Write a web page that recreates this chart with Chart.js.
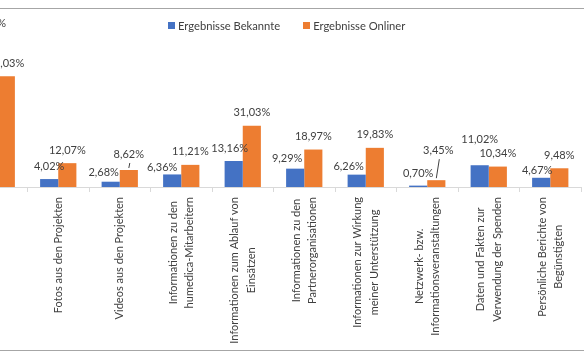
<!DOCTYPE html>
<html>
<head>
<meta charset="utf-8">
<script src="https://cdn.jsdelivr.net/npm/chart.js@4.4.0/dist/chart.umd.min.js"></script>
<style>
  body { margin: 0; width: 584px; height: 360px; overflow: hidden; background: #fff; position: relative; font-family: Lato, sans-serif; }
  .frame { position: absolute; left: 0; right: 0; top: 8px; height: 341px; border-top: 1px solid #a6a6a6; border-bottom: 1px solid #a6a6a6; pointer-events: none; }
  .chart-box { position: absolute; left: -40px; top: 0; width: 640px; height: 360px; }
  .legend { position: absolute; top: 19px; left: 168px; display: flex; font-size: 11.2px; color: #404040; }
  .legend span.item { display: flex; align-items: center; margin-right: 23px; }
  .legend i { display: inline-block; width: 7px; height: 7px; margin-right: 3px; }
</style>
</head>
<body>
<div class="chart-box"><canvas id="chart"></canvas></div>
<div class="frame"></div>
<div class="legend" id="legend"></div>
<script>
// first category is only partly inside the picture (its name is not visible)
const categories = [
  "",
  "Fotos aus den Projekten",
  "Videos aus den Projekten",
  ["Informationen zu den", "humedica-Mitarbeitern"],
  ["Informationen zum Ablauf von", "Einsätzen"],
  ["Informationen zu den", "Partnerorganisationen"],
  ["Informationen zur Wirkung", "meiner Unterstützung"],
  ["Netzwerk- bzw.", "Informationsveranstaltungen"],
  ["Daten und Fakten zur", "Verwendung der Spenden"],
  ["Persönliche Berichte von", "Begünstigten"],
];
const bekannte = [76.2, 4.02, 2.68, 6.36, 13.16, 9.29, 6.26, 0.7, 11.02, 4.67];
const onliner = [56.03, 12.07, 8.62, 11.21, 31.03, 18.97, 19.83, 3.45, 10.34, 9.48];

const seriesNames = ["Ergebnisse Bekannte", "Ergebnisse Onliner"];
const colors = ["#4472C4", "#ED7D31"];

// manual label moves like in the excel file: [dx, dy, leader line]
const labelNudge = [
  { 2: [-7, 4], 3: [-10, 6], 4: [-4, 0], 5: [-8, 3], 6: [-8, 5], 7: [0, 1], 8: [0, -13], 9: [-4, 6] },
  { 2: [0, -3, true], 7: [2, -17, true] },
];

const fmt = (v) => v.toFixed(2).replace(".", ",") + "%";

const valueLabels = {
  id: "valueLabels",
  afterDatasetsDraw(chart) {
    const ctx = chart.ctx;
    ctx.save();
    ctx.font = "11px Lato";
    ctx.fillStyle = "#404040";
    ctx.strokeStyle = "#404040";
    ctx.lineWidth = 1;
    ctx.textAlign = "center";
    ctx.textBaseline = "middle";
    chart.data.datasets.forEach((ds, d) => {
      chart.getDatasetMeta(d).data.forEach((bar, i) => {
        const [dx, dy, leader] = labelNudge[d][i] || [0, 0];
        const x = bar.x + dx;
        const y = bar.y - 13 + dy;
        ctx.fillText(fmt(ds.data[i]), x, y);
        if (leader) {
          ctx.beginPath();
          ctx.moveTo(x + 1, y + 9);
          ctx.lineTo(bar.x, bar.y - 2);
          ctx.stroke();
        }
      });
    });
    ctx.restore();
  },
};

// rotated category names, lines centred on each other
const categoryLabels = {
  id: "categoryLabels",
  afterDraw(chart) {
    const scale = chart.scales.x;
    const ctx = chart.ctx;
    ctx.save();
    ctx.font = "11px Lato";
    ctx.fillStyle = "#404040";
    ctx.textAlign = "center";
    ctx.textBaseline = "middle";
    categories.forEach((label, i) => {
      const lines = [].concat(label);
      const widest = Math.max(...lines.map((l) => ctx.measureText(l).width));
      const x = scale.getPixelForTick(i);
      const y = chart.chartArea.bottom + 10 + widest / 2;
      ctx.save();
      ctx.translate(x, y);
      ctx.rotate(-Math.PI / 2);
      lines.forEach((line, j) => ctx.fillText(line, 0, (j - (lines.length - 1) / 2) * 16.5));
      ctx.restore();
    });
    ctx.restore();
  },
};

new Chart(document.getElementById("chart"), {
  type: "bar",
  data: {
    labels: categories,
    datasets: [
      { label: seriesNames[0], data: bekannte, backgroundColor: colors[0] },
      { label: seriesNames[1], data: onliner, backgroundColor: colors[1] },
    ],
  },
  options: {
    responsive: true,
    maintainAspectRatio: false,
    animation: false,
    layout: { padding: { left: 6, right: 19, top: 29, bottom: 168 } },
    datasets: { bar: { categoryPercentage: 0.59, barPercentage: 1 } },
    plugins: {
      legend: { display: false },
      tooltip: { enabled: false },
    },
    scales: {
      x: {
        grid: { drawOnChartArea: false, color: "#d9d9d9", tickLength: 5 },
        border: { color: "#d9d9d9" },
        ticks: { display: false },
      },
      y: { display: false, min: 0, max: 80 },
    },
  },
  plugins: [valueLabels, categoryLabels],
});

// html legend
const legend = document.getElementById("legend");
seriesNames.forEach((name, k) => {
  const item = document.createElement("span");
  item.className = "item";
  item.innerHTML = '<i style="background:' + colors[k] + '"></i>' + name;
  legend.appendChild(item);
});
</script>
</body>
</html>
